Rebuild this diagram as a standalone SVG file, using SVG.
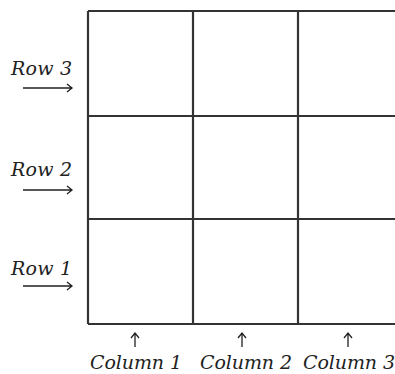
<svg xmlns="http://www.w3.org/2000/svg" width="395" height="374" viewBox="0 0 395 374">
<style>
.g{stroke:#333;stroke-width:2.2;fill:none}
.a{stroke:#222;stroke-width:1.3;fill:none}
text{font-family:"DejaVu Serif","Liberation Serif",serif;font-style:italic;font-size:19px;fill:#222}
</style>
<rect width="395" height="374" fill="#fff"/>
<g id="grid">
<path class="g" d="M88,11H400M88,116H400M88,219H400M88,324H400M88,11V324M193,11V324M298,11V324"/>
</g>
<g id="connectors">
<path class="a" d="M23,88H72M67,84L72,88L67,92"/>
<path class="a" d="M23,190H72M67,186L72,190L67,194"/>
<path class="a" d="M23,286H72M67,282L72,286L67,290"/>
<path class="a" d="M135,347V333M131,338L135,333L139,338"/>
<path class="a" d="M242,347V333M238,338L242,333L246,338"/>
<path class="a" d="M348,347V333M344,338L348,333L352,338"/>
</g>
<g id="row3"><text x="11" y="75" textLength="61">Row 3</text></g>
<g id="row2"><text x="11" y="176" textLength="61">Row 2</text></g>
<g id="row1"><text x="11" y="275" textLength="61">Row 1</text></g>
<g id="col1"><text x="90" y="369" textLength="92">Column 1</text></g>
<g id="col2"><text x="200" y="369" textLength="92">Column 2</text></g>
<g id="col3"><text x="303" y="369" textLength="92">Column 3</text></g>
</svg>
